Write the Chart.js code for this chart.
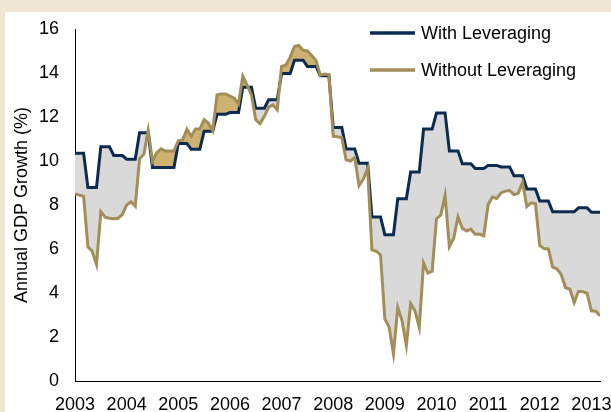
<!DOCTYPE html>
<html>
<head>
<meta charset="utf-8">
<script src="https://cdn.jsdelivr.net/npm/chart.js@4.4.1/dist/chart.umd.min.js"></script>
<style>
  html, body { margin: 0; padding: 0; }
  body { width: 611px; height: 412px; background: #eee7d3; position: relative; overflow: hidden; }
  #frame { position: absolute; left: 5px; top: 12px; width: 606px; height: 400px; background: #fff; }
</style>
</head>
<body>
<div id="frame"><canvas id="gdp-chart" width="606" height="400"></canvas></div>
<script>
// monthly series, Jan 2003 .. Mar 2013
const startYear = 2003;
const yearTicks = [2003, 2004, 2005, 2006, 2007, 2008, 2009, 2010, 2011, 2012, 2013];
const yTicks = [0, 2, 4, 6, 8, 10, 12, 14, 16];

// quarterly values, each held for the 3 months of the quarter
const withLeveragingQ = [
  10.35, 8.8, 10.65, 10.25,
  10.08, 11.28, 9.7, 9.7,
  10.8, 10.53, 11.35, 12.12,
  12.2, 13.35, 12.4, 12.78,
  13.98, 14.58, 14.3, 13.88,
  11.52, 10.55, 9.9, 7.46,
  6.65, 8.28, 9.5, 11.45,
  12.18, 10.46, 9.88, 9.66,
  9.8, 9.73, 9.33, 8.73,
  8.18, 7.69, 7.69, 7.87,
  7.67
];

const withoutLeveraging = [
  8.5, 8.45, 8.4, 6.1, 5.9, 5.3, 7.7, 7.45, 7.4, 7.38, 7.4, 7.57,
  8.0, 8.15, 7.95, 10.1, 10.3, 11.4, 10.0, 10.38, 10.55, 10.45, 10.45, 10.45,
  10.92, 10.95, 11.45, 11.12, 11.45, 11.45, 11.88, 11.73, 11.38, 13.0, 13.05, 13.05,
  12.95, 12.85, 12.6, 13.85, 13.45, 13.0, 11.88, 11.7, 12.03, 12.45, 12.55, 12.33,
  14.3, 14.35, 14.72, 15.2, 15.25, 15.03, 15.0, 14.8, 14.57, 13.9, 13.95, 13.93,
  11.13, 11.1, 11.06, 10.05, 10.0, 10.16, 8.88, 9.18, 9.66, 5.96, 5.9, 5.73,
  2.82, 2.44, 1.24, 3.34, 2.74, 1.62, 3.52, 3.19, 2.44, 5.36, 4.91, 4.99,
  7.38, 7.54, 8.43, 6.11, 6.49, 7.46, 6.94, 6.82, 6.9, 6.67, 6.68, 6.6,
  8.02, 8.36, 8.3, 8.55, 8.63, 8.66, 8.47, 8.53, 9.03, 7.93, 8.1, 8.06,
  6.15, 6.02, 6.0, 5.18, 5.1, 4.83, 4.24, 4.17, 3.57, 4.08, 4.06, 3.99,
  3.19, 3.17, 2.97
];

const navy = '#0c2b50';
const gold = '#a38e59';
const FONT = '"Liberation Sans", Arial, sans-serif';

const withLeveraging = withLeveragingQ.flatMap(v => [v, v, v]);
const toPoints = arr => arr.map((v, i) => ({ x: startYear + i / 12, y: v }));

// legend drawn inside the plot, top right, one entry per row
const insideLegend = {
  id: 'insideLegend',
  afterDraw(chart) {
    const { ctx, chartArea } = chart;
    chart.data.datasets.forEach((ds, i) => {
      const x = chartArea.right - 230;
      const y = chartArea.top + 4 + i * 37;
      ctx.save();
      ctx.strokeStyle = ds.borderColor;
      ctx.lineWidth = 3.5;
      ctx.beginPath();
      ctx.moveTo(x, y);
      ctx.lineTo(x + 45, y);
      ctx.stroke();
      ctx.fillStyle = '#000';
      ctx.font = '18px ' + FONT;
      ctx.textBaseline = 'middle';
      ctx.fillText(ds.label, x + 51, y + 1);
      ctx.restore();
    });
  }
};

const ctx = document.getElementById('gdp-chart').getContext('2d');
new Chart(ctx, {
  type: 'line',
  data: {
    datasets: [{
      label: 'With Leveraging',
      data: toPoints(withLeveraging),
      borderColor: navy,
      borderWidth: 3,
      pointRadius: 0,
      order: 1,
      fill: { target: 1, above: '#d9d9d9', below: '#cdb271' }
    }, {
      label: 'Without Leveraging',
      data: toPoints(withoutLeveraging),
      borderColor: gold,
      borderWidth: 3,
      pointRadius: 0,
      order: 0,
      fill: false
    }]
  },
  options: {
    responsive: false,
    animation: false,
    layout: { padding: { top: 17, right: 11, left: 0, bottom: 0 } },
    plugins: { legend: { display: false }, tooltip: { enabled: false } },
    scales: {
      x: {
        type: 'linear',
        min: startYear,
        max: startYear + (withoutLeveraging.length - 1) / 12,
        grid: { display: false, drawTicks: false },
        border: { display: true, color: '#000', width: 1 },
        afterBuildTicks: scale => { scale.ticks = yearTicks.map(v => ({ value: v })); },
        afterFit: scale => {
          scale.height = 31;
          scale.paddingLeft = 0;
          scale.paddingRight = 0;
        },
        ticks: {
          color: '#000',
          font: { family: FONT, size: 18 },
          padding: 13,
          maxRotation: 0,
          callback: v => String(v)
        }
      },
      y: {
        min: 0,
        max: 16,
        grid: { display: false, drawTicks: false },
        border: { display: true, color: '#000', width: 1 },
        afterBuildTicks: scale => { scale.ticks = yTicks.map(v => ({ value: v })); },
        afterFit: scale => {
          scale.width = 70;
          scale.paddingTop = 0;
          scale.paddingBottom = 0;
        },
        ticks: {
          color: '#000',
          font: { family: FONT, size: 18 },
          padding: 16
        },
        title: {
          display: true,
          text: 'Annual GDP Growth (%)',
          color: '#000',
          font: { family: FONT, size: 18 },
          padding: { top: 6, bottom: 0 }
        }
      }
    }
  },
  plugins: [insideLegend]
});
</script>
</body>
</html>
